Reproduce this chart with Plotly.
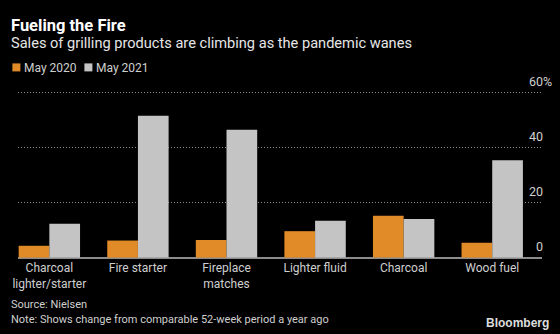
import plotly.graph_objects as go

# Category labels and percent change values
categories = ["Charcoal<br>lighter/starter", "Fire starter", "Fireplace<br>matches",
              "Lighter fluid", "Charcoal", "Wood fuel"]
may_2020 = [4.3, 6.2, 6.4, 9.6, 15.2, 5.4]
may_2021 = [12.3, 51.5, 46.4, 13.4, 14.0, 35.4]
y_ticks = [0, 20, 40, 60]
y_tick_labels = ["0", "20", "40", "60%"]

ORANGE = "#E08A28"
GRAY = "#C4C4C4"
TEXT = "#CFCFCF"
FONT = "Roboto"

PLOT_LEFT = 18.3     # pixel column of the plot area's left edge
PLOT_RIGHT = 541.7   # pixel column of the plot area's right edge
PLOT_TOP = 90.6      # pixel row of the plot area's top edge
PLOT_BOTTOM = 259.4  # pixel row of the plot area's bottom edge

fig = go.Figure()
fig.add_bar(x=categories, y=may_2020, name="May 2020", marker_color=ORANGE,
            marker_line_width=0, showlegend=False)
fig.add_bar(x=categories, y=may_2021, name="May 2021", marker_color=GRAY,
            marker_line_width=0, showlegend=False)

fig.update_layout(
    width=560, height=334,
    paper_bgcolor="black", plot_bgcolor="black",
    margin=dict(l=PLOT_LEFT, r=560 - PLOT_RIGHT, t=PLOT_TOP, b=334 - PLOT_BOTTOM, pad=0),
    barmode="group", bargap=0.307, bargroupgap=0,
    font=dict(family=FONT, color=TEXT, size=12),
)
fig.update_xaxes(
    range=[-0.354, 5.562], showgrid=False, zeroline=False, showline=False,
    ticks="", tickfont=dict(size=12, color=TEXT, family=FONT), automargin=False,
)
fig.update_yaxes(
    range=[-0.5, 60.5], side="right", showgrid=True, gridcolor="#8C8C8C",
    griddash="1px,2px", gridwidth=1, tickvals=y_ticks, showticklabels=False,
    zeroline=True, zerolinecolor="#8C8C8C", zerolinewidth=2, ticks="",
)


def top_shift(row):
    """yshift for an annotation anchored at the plot top, to land on a pixel row."""
    return PLOT_TOP - row


def bottom_shift(row):
    """yshift for an annotation anchored at the plot bottom, to land on a pixel row."""
    return PLOT_BOTTOM - row


def left_shift(col):
    """xshift for an annotation anchored at the plot's left edge."""
    return col - PLOT_LEFT


def text_note(text, col, row, size, color=TEXT, family=FONT, anchor="left", from_top=True):
    fig.add_annotation(
        x=0, xref="paper", xshift=left_shift(col),
        y=1 if from_top else 0, yref="paper",
        yshift=top_shift(row) if from_top else bottom_shift(row),
        text=text, showarrow=False, xanchor=anchor, yanchor="middle",
        borderpad=0, borderwidth=0, font=dict(size=size, color=color, family=family),
    )


# Tick labels above each gridline: numbers right-aligned, percent sign hanging
for v, t in zip(y_ticks, y_tick_labels):
    num = t.rstrip("%")
    fig.add_annotation(x=1.0, xref="paper", xshift=0.5, y=v, yref="y", yshift=11,
                       text=num, showarrow=False, xanchor="right", yanchor="middle",
                       borderpad=0, borderwidth=0,
                       font=dict(size=12.5, color=TEXT, family=FONT))
    if t.endswith("%"):
        fig.add_annotation(x=1.0, xref="paper", xshift=0.5, y=v, yref="y", yshift=11,
                           text="%", showarrow=False, xanchor="left", yanchor="middle",
                           borderpad=0, borderwidth=0,
                           font=dict(size=12.5, color=TEXT, family=FONT))

# Title block
text_note("<b>Fueling the Fire</b>", 11.5, 25.5, 16.5, color="white")
text_note("Sales of grilling products are climbing as the pandemic wanes", 11.5, 42.5, 14.6,
          color="#E6E6E6")

# Legend: square swatches drawn in pixel units next to their labels
legend_items = [("May 2020", ORANGE, 12.7), ("May 2021", GRAY, 84.7)]
for label, color, col in legend_items:
    fig.add_shape(type="rect", xref="paper", yref="paper",
                  xsizemode="pixel", ysizemode="pixel", xanchor=0, yanchor=1,
                  x0=col - PLOT_LEFT, x1=col + 8 - PLOT_LEFT,
                  y0=PLOT_TOP - 71, y1=PLOT_TOP - 63,
                  fillcolor=color, line_width=0)
    text_note(label, col + 12, 67.5, 12)

# Footer
text_note("Source: Nielsen", 11.5, 305.2, 11, from_top=False)
text_note("Note: Shows change from comparable 52-week period a year ago", 11.5, 319.6, 11,
          from_top=False)
fig.add_annotation(x=1, xref="paper", xshift=6.5, y=0, yref="paper", yshift=bottom_shift(323),
                   text="<b>Bloomberg</b>", showarrow=False, xanchor="right", yanchor="middle",
                   borderpad=0, borderwidth=0,
                   font=dict(size=12, color="#DDDDDD", family="Liberation Sans"))

fig.write_html("out.html")
